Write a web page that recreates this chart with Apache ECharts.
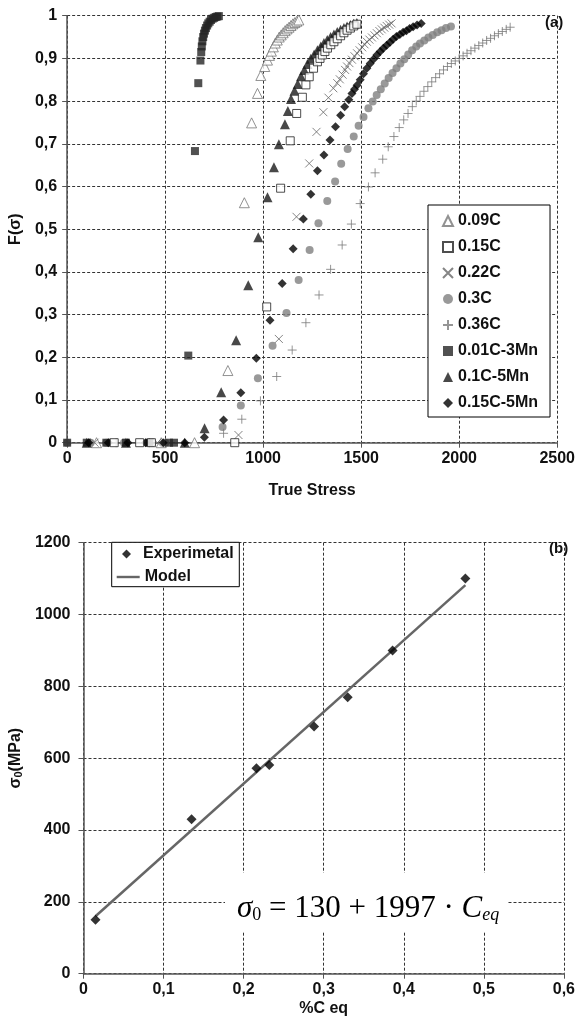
<!DOCTYPE html>
<html><head><meta charset="utf-8">
<script src="https://cdn.jsdelivr.net/npm/echarts@6/dist/echarts.min.js"></script>
<style>html,body{margin:0;padding:0;background:#fff}#c{width:578px;height:1027px}</style>
</head><body><div id="c"></div>
<script>
// ---------- (a) data: [True Stress, F(sigma)] ----------
const seriesNames = ['0.09C','0.15C','0.22C','0.3C','0.36C','0.01C-3Mn','0.1C-5Mn','0.15C-5Mn'];
const s009C = [[150,0],[480,0],[650,0],[820,0.169],[904,0.562],[941,0.749],[971,0.818],[988,0.86],[1008,0.881],[1022,0.896],[1032,0.907],[1042,0.917],[1052,0.927],[1062,0.936],[1072,0.943],[1082,0.95],[1092,0.955],[1102,0.96],[1112,0.965],[1122,0.969],[1132,0.973],[1142,0.977],[1152,0.981],[1162,0.984],[1172,0.987],[1182,0.99]];
const s015C = [[240,0],[370,0],[430,0],[855,0],[1018,0.318],[1089,0.596],[1138,0.707],[1171,0.771],[1200,0.809],[1218,0.838],[1235,0.857],[1257,0.877],[1277,0.892],[1290,0.9],[1302,0.908],[1315,0.916],[1328,0.924],[1345,0.932],[1361,0.939],[1378,0.946],[1395,0.953],[1412,0.96],[1428,0.966],[1445,0.971],[1462,0.976],[1478,0.98]];
const s022C = [[140,0],[460,0],[874,0.018],[1080,0.243],[1170,0.529],[1235,0.654],[1272,0.728],[1307,0.774],[1333,0.808],[1358,0.83],[1378,0.842],[1391,0.851],[1405,0.862],[1418,0.873],[1428,0.881],[1440,0.889],[1453,0.897],[1466,0.905],[1479,0.912],[1492,0.919],[1505,0.926],[1517,0.933],[1529,0.939],[1542,0.944],[1555,0.949],[1568,0.954],[1580,0.959],[1593,0.964],[1605,0.968],[1618,0.972],[1630,0.976],[1643,0.979],[1655,0.982]];
const s03C = [[0,0],[120,0],[200,0],[290,0],[410,0],[500,0],[793,0.037],[886,0.087],[973,0.151],[1048,0.227],[1119,0.304],[1181,0.381],[1237,0.451],[1282,0.514],[1327,0.566],[1367,0.612],[1398,0.653],[1431,0.688],[1462,0.717],[1487,0.742],[1512,0.763],[1537,0.783],[1559,0.799],[1579,0.814],[1600,0.828],[1620,0.841],[1640,0.854],[1660,0.866],[1680,0.877],[1700,0.888],[1720,0.898],[1740,0.909],[1760,0.919],[1781,0.928],[1800,0.935],[1822,0.942],[1843,0.949],[1865,0.955],[1888,0.961],[1910,0.966],[1933,0.971],[1958,0.975]];
const s036C = [[250,0],[420,0],[798,0.022],[891,0.055],[986,0.098],[1069,0.155],[1148,0.217],[1218,0.281],[1285,0.346],[1344,0.406],[1403,0.463],[1450,0.512],[1495,0.56],[1537,0.599],[1571,0.632],[1610,0.664],[1638,0.693],[1667,0.717],[1694,0.738],[1717,0.756],[1739,0.771],[1761,0.787],[1781,0.8],[1800,0.811],[1820,0.823],[1840,0.834],[1860,0.845],[1880,0.855],[1900,0.864],[1920,0.873],[1940,0.881],[1960,0.888],[1980,0.894],[2000,0.9],[2020,0.906],[2040,0.912],[2060,0.918],[2080,0.924],[2100,0.93],[2120,0.936],[2140,0.942],[2160,0.947],[2180,0.953],[2200,0.958],[2220,0.963],[2240,0.968],[2260,0.973]];
const s001C3Mn = [[0,0],[100,0],[200,0],[300,0],[420,0],[520,0],[545,0],[618,0.204],[652,0.683],[669,0.842],[680,0.895],[684,0.915],[687,0.928],[690,0.94],[694,0.95],[698,0.958],[703,0.965],[708,0.971],[714,0.977],[720,0.982],[727,0.986],[734,0.99],[742,0.993],[750,0.995],[758,0.997],[766,0.998],[774,0.999]];
const s01C5Mn = [[100,0],[300,0],[600,0],[701,0.034],[786,0.118],[862,0.24],[924,0.369],[975,0.481],[1022,0.575],[1055,0.645],[1080,0.699],[1111,0.746],[1126,0.777],[1142,0.805],[1160,0.824],[1176,0.84],[1193,0.858],[1210,0.873],[1226,0.887],[1243,0.899],[1260,0.909],[1277,0.919],[1294,0.928],[1310,0.936],[1327,0.943],[1344,0.95],[1361,0.956],[1378,0.962],[1395,0.967],[1412,0.971],[1428,0.975],[1445,0.978],[1462,0.981],[1478,0.983]];
const s015C5Mn = [[110,0],[210,0],[310,0],[400,0],[490,0],[600,0],[700,0.013],[798,0.053],[886,0.117],[965,0.198],[1035,0.287],[1097,0.373],[1153,0.454],[1205,0.524],[1243,0.582],[1277,0.637],[1310,0.674],[1341,0.709],[1369,0.74],[1395,0.767],[1416,0.787],[1437,0.803],[1453,0.818],[1466,0.828],[1479,0.837],[1495,0.85],[1512,0.864],[1529,0.877],[1546,0.888],[1563,0.898],[1580,0.908],[1597,0.916],[1613,0.924],[1630,0.931],[1647,0.938],[1663,0.945],[1680,0.951],[1697,0.956],[1714,0.961],[1731,0.965],[1747,0.97],[1765,0.974],[1785,0.978],[1806,0.982]];

// ---------- (b) data ----------
const ceqExp = [0.015,0.135,0.216,0.232,0.288,0.33,0.386,0.477];
const sigmaExp = [150,430,572,581,688,770,900,1100];
const ceqModel = [0.015,0.477];
const sigmaModel = [160,1082];

const xTicksA = {min:0,max:2500,interval:500};
const yTicksA = {min:0,max:1,interval:0.1};
const xTicksB = {min:0,max:0.6,interval:0.1};
const yTicksB = {min:0,max:1200,interval:200};

const F = 'Liberation Sans, Arial, sans-serif';
const comma = v => String(+(+v).toFixed(2)).replace('.', ',');
const plain = v => String(Math.round(v));
const grid = {lineStyle:{color:'#333',type:[3,2],width:1}};
const axLine = {lineStyle:{color:'#555',width:1.5}};
const lbl = (m) => ({fontFamily:F,fontWeight:'bold',fontSize:16,color:'#111',margin:m});
const legText = {fontFamily:F,fontWeight:'bold',fontSize:16,lineHeight:16,color:'#111'};

const crossPath = 'path://M0,0L10,10M10,0L0,10';
const plusPath = 'path://M5,0L5,10M0,5L10,5';

function sc(name, data, symbol, size, itemStyle, z) {
  return {type:'scatter', name, data, symbol, symbolSize:size, xAxisIndex:0, yAxisIndex:0,
    itemStyle, z: z||2, emphasis:{disabled:true}, animation:false};
}

const chart = echarts.init(document.getElementById('c'), null, {renderer:'canvas'});
chart.setOption({
  animation:false,
  backgroundColor:'#fff',
  grid:[
    {left:63.3, right:18.7, top:15.7, bottom:584.3, containLabel:false},
    {left:76.7, right:11.3, top:542.7, bottom:53.3, containLabel:false}
  ],
  xAxis:[
    {type:'value', gridIndex:0, ...xTicksA, name:'True Stress', nameLocation:'middle', nameGap:40,
     nameTextStyle:{fontFamily:F,fontWeight:'bold',fontSize:16,color:'#111'},
     axisLine:axLine, axisTick:{show:true,length:5,lineStyle:{color:'#555'}},
     axisLabel:{...lbl(8), formatter:plain}, splitLine:grid},
    {type:'value', gridIndex:1, ...xTicksB, name:'%C eq', nameLocation:'middle', nameGap:27,
     nameTextStyle:{fontFamily:F,fontWeight:'bold',fontSize:16,color:'#111'},
     axisLine:axLine, axisTick:{show:true,length:5,lineStyle:{color:'#555'}},
     axisLabel:{...lbl(8), formatter:comma}, splitLine:grid}
  ],
  yAxis:[
    {type:'value', gridIndex:0, ...yTicksA, name:'F(σ)', nameLocation:'middle', nameGap:40,
     nameTextStyle:{fontFamily:F,fontWeight:'bold',fontSize:16,color:'#111'},
     axisLine:axLine, axisTick:{show:true,length:5,lineStyle:{color:'#555'}},
     axisLabel:{...lbl(10), formatter:comma}, splitLine:grid},
    {type:'value', gridIndex:1, ...yTicksB, name:'σ{s|0}(MPa)', nameLocation:'middle', nameGap:54,
     nameTextStyle:{fontFamily:F,fontWeight:'bold',fontSize:16,color:'#111',
       rich:{s:{fontFamily:F,fontWeight:'bold',fontSize:11,color:'#111',verticalAlign:'bottom'}}},
     axisLine:axLine, axisTick:{show:true,length:5,lineStyle:{color:'#555'}},
     axisLabel:{...lbl(13), formatter:plain}, splitLine:grid}
  ],
  legend:[
    {data:seriesNames, orient:'vertical', left:428, top:205, padding:[8,12,6,14], itemGap:10,
     itemWidth:10, itemHeight:10, backgroundColor:'#fff', borderColor:'#000', borderWidth:1, borderRadius:0,
     textStyle:legText, symbolKeepAspect:true, selectedMode:false},
    {data:[{name:'Experimetal', icon:'diamond'}], orient:'vertical', left:122, top:546, padding:0,
     itemWidth:9, itemHeight:9, z:6,
     textStyle:{...legText, padding:[0,0,0,7]}, selectedMode:false},
    {data:[{name:'Model', icon:'path://M0,4L23,4L23,6.4L0,6.4Z'}], orient:'vertical', left:116.7, top:569, padding:0,
     itemWidth:23, itemHeight:9, z:6,
     textStyle:legText, symbolKeepAspect:true, selectedMode:false}
  ],
  series:[
    sc('0.09C', s009C, 'triangle', 10, {color:'#fff', borderColor:'#777', borderWidth:1}),
    sc('0.15C', s015C, 'rect', 8, {color:'#fff', borderColor:'#222', borderWidth:1}, 3),
    sc('0.22C', s022C, crossPath, 8, {color:'rgba(0,0,0,0)', borderColor:'#666', borderWidth:1}),
    sc('0.3C', s03C, 'circle', 8, {color:'#7f7f7f'}),
    sc('0.36C', s036C, plusPath, 9, {color:'rgba(0,0,0,0)', borderColor:'#7a7a7a', borderWidth:1}),
    sc('0.01C-3Mn', s001C3Mn, 'rect', 8, {color:'#262626'}),
    sc('0.1C-5Mn', s01C5Mn, 'triangle', 10, {color:'#1a1a1a'}),
    sc('0.15C-5Mn', s015C5Mn, 'diamond', 9, {color:'#000'}),
    {type:'line', name:'Model', xAxisIndex:1, yAxisIndex:1, data:ceqModel.map((c,i)=>[c,sigmaModel[i]]),
     symbol:'none', showSymbol:false, lineStyle:{color:'#666',width:2.5}, itemStyle:{color:'#666'}, z:2},
    {type:'scatter', name:'Experimetal', xAxisIndex:1, yAxisIndex:1, data:ceqExp.map((c,i)=>[c,sigmaExp[i]]),
     symbol:'diamond', symbolSize:10, itemStyle:{color:'#000'}, z:3}
  ],
  graphic:[
    {type:'text', left:545, top:15, z:10, style:{text:'(a)', font:'bold 15px '+F, fill:'#111'}},
    {type:'text', left:549, top:541, z:10, style:{text:'(b)', font:'bold 15px '+F, fill:'#111'}},
    {type:'rect', shape:{x:111.7,y:542.3,width:127.6,height:44.4}, style:{fill:'#fff',stroke:'#000',lineWidth:1}, z:3, silent:true},
    {type:'rect', shape:{x:225,y:873,width:283,height:59}, style:{fill:'#fff'}, z:5, silent:true},
    {type:'text', x:237, y:906, z:6, style:{
      text:'{s|σ}{sb|0}{n| = 130 + 1997 · }{s|C}{si|eq}',
      verticalAlign:'middle', align:'left',
      rich:{
        s:{fontFamily:'Liberation Serif',fontStyle:'italic',fontSize:31,fill:'#000',verticalAlign:'bottom',lineHeight:36},
        n:{fontFamily:'Liberation Serif',fontSize:31,fill:'#000',verticalAlign:'bottom',lineHeight:36},
        sb:{fontFamily:'Liberation Serif',fontSize:18,fill:'#000',verticalAlign:'bottom',lineHeight:36},
        si:{fontFamily:'Liberation Serif',fontStyle:'italic',fontSize:18,fill:'#000',verticalAlign:'bottom',lineHeight:36}
      }}}
  ]
});
</script></body></html>
